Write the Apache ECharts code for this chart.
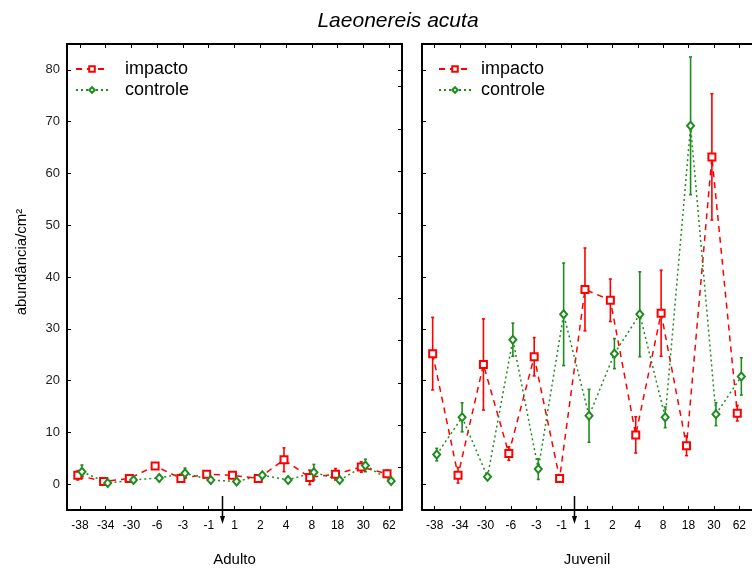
<!DOCTYPE html>
<html>
<head>
<meta charset="utf-8">
<script src="https://cdn.jsdelivr.net/npm/echarts@6/dist/echarts.min.js"></script>
<style>
    html, body { margin: 0; padding: 0; background: #fff; }
    #chart { width: 752px; height: 573px; }
</style>
</head>
<body>
<div id="chart"></div>
<script>
    // dados
    var categories = ['-38', '-34', '-30', '-6', '-3', '-1', '1', '2', '4', '8', '18', '30', '62'];
    var yTicks = [0, 10, 20, 30, 40, 50, 60, 70, 80];
    var rightTicks = [3.2, 11.4, 19.5, 27.7, 35.9, 44.1, 52.3, 60.5, 68.6, 76.8, 80];

    var adultoImpacto    = [1.7, 0.5, 1.1, 3.5, 1.1, 1.9, 1.7, 1.1, 4.7, 1.3, 1.9, 3.3, 2.0];
    var adultoImpactoErr = [0.9, 0.3, 0.4, 0.6, 0.3, 0.4, 0.4, 0.3, 2.3, 1.4, 1.1, 1.0, 0.7];
    var adultoControle    = [2.4, 0.2, 0.8, 1.2, 2.1, 0.8, 0.5, 1.7, 0.8, 2.3, 0.8, 3.6, 0.6];
    var adultoControleErr = [1.3, 0.2, 0.3, 0.6, 1.0, 0.3, 0.3, 0.4, 0.3, 1.5, 0.3, 1.2, 0.3];

    var juvenilImpacto    = [25.2, 1.7, 23.1, 5.9, 24.6, 1.1, 37.6, 35.5, 9.5, 33.0, 7.4, 63.2, 13.7];
    var juvenilImpactoErr = [7.0, 1.5, 8.8, 1.3, 3.7, 0.3, 8.0, 4.1, 3.5, 8.3, 1.9, 12.2, 1.5];
    var juvenilControle    = [5.7, 12.9, 1.4, 27.9, 2.9, 32.8, 13.2, 25.2, 32.8, 12.9, 69.2, 13.5, 20.8];
    var juvenilControleErr = [1.2, 2.8, 0.3, 3.2, 2.0, 9.9, 5.1, 2.9, 8.2, 2.0, 13.3, 2.2, 3.6];

    var arrowPos = 5.5;   // entre -1 e 1
    var arrowTop = -2.3;

    var RED = '#ff0000';
    var GREEN = '#1e8c1e';
    var FONT = 'Liberation Sans, Arial, sans-serif';
    var SHIFT = 0.08;

    function points(values, shift) {
        return values.map(function (v, i) { return [i + shift, v]; });
    }
    function bars(values, errs, shift) {
        return values.map(function (v, i) { return [i + shift, v - errs[i], v + errs[i]]; });
    }
    function errorBars(color) {
        return function (params, api) {
            var x = api.value(0);
            var lo = api.coord([x, api.value(1)]);
            var hi = api.coord([x, api.value(2)]);
            var cap = 1.5;
            var style = { stroke: color, lineWidth: 1.6 };
            return {
                type: 'group',
                children: [
                    { type: 'line', shape: { x1: lo[0], y1: lo[1], x2: hi[0], y2: hi[1] }, style: style },
                    { type: 'line', shape: { x1: lo[0] - cap, y1: lo[1], x2: lo[0] + cap, y2: lo[1] }, style: style },
                    { type: 'line', shape: { x1: hi[0] - cap, y1: hi[1], x2: hi[0] + cap, y2: hi[1] }, style: style }
                ]
            };
        };
    }

    var axisLine = { show: true, onZero: false, lineStyle: { color: '#000', width: 2 } };
    var tick = { show: true, inside: true, length: 4, lineStyle: { color: '#000', width: 1 } };

    function bottomAxis(grid, name) {
        return {
            type: 'category', gridIndex: grid, position: 'bottom', data: categories, boundaryGap: true,
            axisLine: axisLine,
            axisTick: Object.assign({ alignWithLabel: true }, tick),
            axisLabel: { fontSize: 12, color: '#000', margin: 10, fontFamily: FONT },
            name: name, nameLocation: 'middle', nameGap: 42,
            nameTextStyle: { fontSize: 15, color: '#000', fontFamily: FONT }
        };
    }
    function topAxis(grid) {
        return {
            type: 'category', gridIndex: grid, position: 'top', data: categories, boundaryGap: true,
            axisLine: axisLine,
            axisTick: Object.assign({ alignWithLabel: true }, tick),
            axisLabel: { show: false }
        };
    }
    function hiddenAxis(grid) {
        return { type: 'value', gridIndex: grid, min: -0.5, max: 12.5, show: false, axisLine: { onZero: false } };
    }

    function lineSeries(name, data, x, y, kind) {
        var isRed = kind === 'impacto';
        return {
            name: name, type: 'line', xAxisIndex: x, yAxisIndex: y, data: data, z: 3,
            symbol: isRed ? 'emptyRect' : 'emptyDiamond',
            symbolSize: isRed ? 7 : [7, 8],
            itemStyle: { color: isRed ? RED : GREEN, borderWidth: 1.5 },
            lineStyle: { color: isRed ? RED : GREEN, width: 1.5, type: isRed ? [6, 5] : [2, 3] },
            animation: false
        };
    }
    function barSeries(data, x, y, color) {
        return {
            type: 'custom', xAxisIndex: x, yAxisIndex: y, data: data, z: 2,
            encode: { x: 0, y: [1, 2] },
            renderItem: errorBars(color),
            animation: false
        };
    }

    var chart = echarts.init(document.getElementById('chart'));

    var legendText = { fontSize: 18, color: '#000', fontFamily: FONT };

    var option = {
        backgroundColor: '#fff',
        animation: false,
        title: {
            text: 'Laeonereis acuta', left: 393, top: 6, textAlign: 'center',
            textStyle: { fontSize: 21, fontStyle: 'italic', fontWeight: 'normal', color: '#000', fontFamily: FONT }
        },
        legend: [
            {
                data: ['impacto', 'controle'], left: 70, top: 55, orient: 'vertical', selectedMode: false,
                itemWidth: 32, itemHeight: 7, itemGap: 3,
                textStyle: Object.assign({ padding: [0, 0, 0, 12] }, legendText)
            },
            {
                data: ['impacto', 'controle'], left: 433, top: 55, orient: 'vertical', selectedMode: false,
                itemWidth: 32, itemHeight: 7, itemGap: 3,
                textStyle: Object.assign({ padding: [0, 0, 0, 5] }, legendText)
            }
        ],
        grid: [
            { left: 67, top: 44, width: 335, height: 466 },
            { left: 422, top: 44, width: 335, height: 466 }
        ],
        xAxis: [
            bottomAxis(0, 'Adulto'), topAxis(0), hiddenAxis(0),
            bottomAxis(1, 'Juvenil'), topAxis(1), hiddenAxis(1)
        ],
        yAxis: [
            {
                type: 'value', gridIndex: 0, position: 'left', min: -5, max: 85,
                axisLine: axisLine,
                axisTick: Object.assign({ customValues: yTicks }, tick),
                axisLabel: { customValues: yTicks, fontSize: 13, color: '#222', margin: 7, fontFamily: FONT },
                splitLine: { show: false },
                name: 'abundância/cm²', nameLocation: 'middle', nameGap: 38,
                nameTextStyle: { fontSize: 15, color: '#000', fontFamily: FONT, padding: [0, 0, 0, 30] }
            },
            {
                type: 'value', gridIndex: 0, position: 'right', min: -5, max: 85,
                axisLine: axisLine,
                axisTick: Object.assign({ customValues: rightTicks }, tick),
                axisLabel: { show: false },
                splitLine: { show: false }
            },
            {
                type: 'value', gridIndex: 1, position: 'left', min: -5, max: 85,
                axisLine: axisLine,
                axisTick: Object.assign({ customValues: yTicks }, tick),
                axisLabel: { show: false },
                splitLine: { show: false }
            }
        ],
        series: [
            barSeries(bars(adultoImpacto, adultoImpactoErr, -SHIFT), 2, 0, RED),
            barSeries(bars(adultoControle, adultoControleErr, SHIFT), 2, 0, GREEN),
            lineSeries('impacto', points(adultoImpacto, -SHIFT), 2, 0, 'impacto'),
            lineSeries('controle', points(adultoControle, SHIFT), 2, 0, 'controle'),

            barSeries(bars(juvenilImpacto, juvenilImpactoErr, -SHIFT), 5, 2, RED),
            barSeries(bars(juvenilControle, juvenilControleErr, SHIFT), 5, 2, GREEN),
            lineSeries('impacto', points(juvenilImpacto, -SHIFT), 5, 2, 'impacto'),
            lineSeries('controle', points(juvenilControle, SHIFT), 5, 2, 'controle')
        ]
    };

    chart.setOption(option);

    // setas de intervenção, posicionadas pelas escalas
    function arrow(xIndex, yIndex) {
        var top = chart.convertToPixel({ xAxisIndex: xIndex, yAxisIndex: yIndex }, [arrowPos, arrowTop]);
        var x = Math.round(top[0]) + 0.5;
        var tip = 524;
        return {
            type: 'group', silent: true,
            children: [
                { type: 'line', shape: { x1: x, y1: top[1], x2: x, y2: tip - 5 }, style: { stroke: '#000', lineWidth: 1.5 } },
                { type: 'polygon', shape: { points: [[x - 2.5, tip - 8], [x + 2.5, tip - 8], [x, tip]] }, style: { fill: '#000' } }
            ]
        };
    }
    chart.setOption({ graphic: [arrow(2, 0), arrow(5, 2)] });
</script>
</body>
</html>
